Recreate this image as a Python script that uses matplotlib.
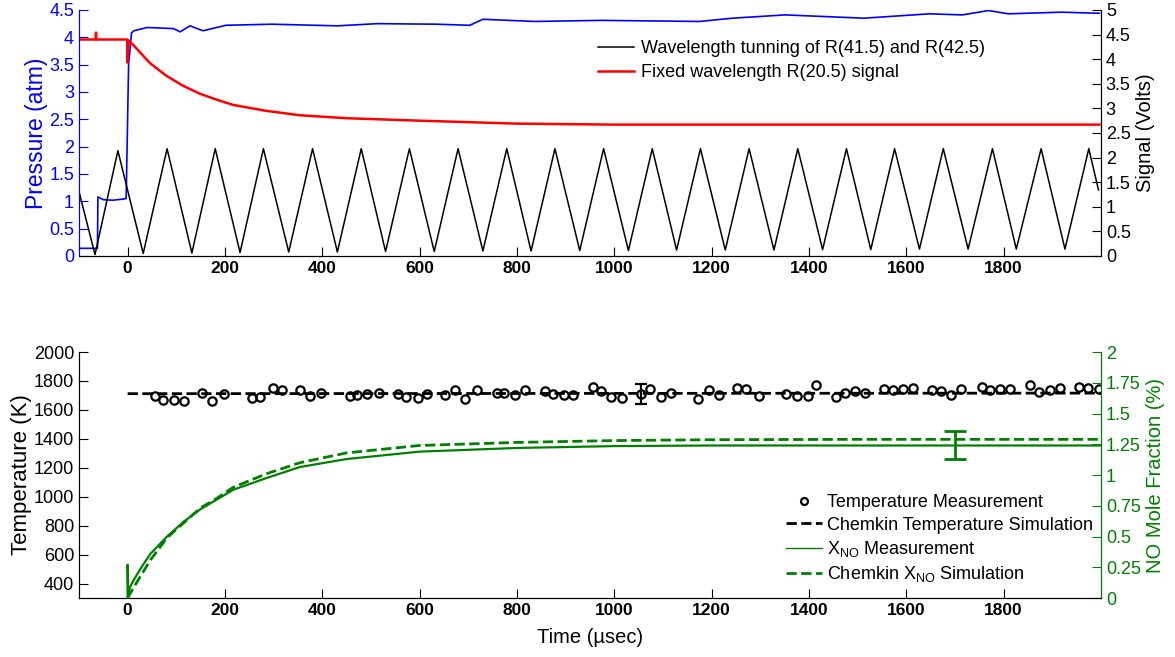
import numpy as np
import matplotlib.pyplot as plt

plt.rcParams['font.family'] = ['Liberation Sans', 'DejaVu Sans']
plt.rcParams['mathtext.fontset'] = 'custom'
plt.rcParams['mathtext.rm'] = 'Liberation Sans'

# ---- top panel: pressure and laser signals ----
p_t = [-100, -62, -61, -50, -30, -10, -3, 2, 8, 13, 40, 94, 108, 128, 155, 202, 296, 431,
       513, 635, 703, 730, 837, 972, 1175, 1243, 1351, 1513, 1648, 1715, 1769, 1810, 1918, 1997]
p_atm = [0.14, 0.14, 1.08, 1.03, 1.02, 1.04, 1.05, 3.5, 4.08, 4.12, 4.18, 4.16, 4.10, 4.21, 4.12,
         4.22, 4.24, 4.21, 4.25, 4.24, 4.22, 4.33, 4.29, 4.31, 4.29, 4.35, 4.41, 4.35, 4.43, 4.41,
         4.49, 4.43, 4.46, 4.44]

fixed_t = [-100, -66, -65, -64, -1, 0, 2, 5, 11.5, 46, 80, 114, 148, 182, 217, 285, 354, 450,
           600, 800, 1000, 1400, 1997]
fixed_v = [4.40, 4.40, 4.54, 4.40, 4.40, 3.93, 4.38, 4.35, 4.29, 3.92, 3.66, 3.46, 3.30, 3.18,
           3.07, 2.95, 2.86, 2.80, 2.75, 2.69, 2.67, 2.67, 2.67]

scan_t = [-100, -67, -20, 32, 81, 132, 180, 231, 279, 331, 380, 431, 480, 530, 579, 630, 679,
          730, 779, 829, 878, 929, 978, 1029, 1078, 1128, 1177, 1228, 1277, 1328, 1377, 1428,
          1477, 1527, 1576, 1627, 1676, 1727, 1777, 1826, 1877, 1926, 1975, 1995]
scan_v = [1.31, 0.03, 2.14, 0.05, 2.18, 0.06, 2.18, 0.07, 2.18, 0.08, 2.18, 0.08, 2.18, 0.09,
          2.18, 0.09, 2.18, 0.10, 2.18, 0.10, 2.18, 0.11, 2.18, 0.11, 2.18, 0.12, 2.18, 0.12,
          2.18, 0.12, 2.18, 0.13, 2.18, 0.13, 2.18, 0.14, 2.18, 0.14, 2.18, 0.14, 2.18, 0.14,
          2.18, 1.34]

# ---- bottom panel: temperature and NO ----
temp_t = [56, 73, 95, 115, 153, 174, 199, 256, 273, 298, 318, 355, 374, 398, 456, 472, 491,
          516, 556, 573, 596, 616, 652, 672, 694, 717, 758, 773, 795, 816, 857, 874, 896, 915,
          956, 973, 994, 1016, 1055, 1074, 1096, 1117, 1171, 1194, 1216, 1253, 1270, 1298, 1352,
          1376, 1397, 1415, 1455, 1474, 1494, 1516, 1554, 1573, 1594, 1614, 1653, 1671, 1692,
          1712, 1755, 1771, 1793, 1814, 1855, 1872, 1896, 1915, 1954, 1974, 1995]
temp_k = [1696, 1666, 1666, 1661, 1719, 1659, 1710, 1685, 1689, 1751, 1737, 1735, 1696, 1714,
          1696, 1701, 1708, 1719, 1712, 1689, 1685, 1708, 1701, 1735, 1675, 1735, 1719, 1719,
          1701, 1735, 1728, 1708, 1701, 1701, 1758, 1728, 1689, 1685, 1708, 1742, 1689, 1719,
          1675, 1735, 1701, 1751, 1742, 1696, 1712, 1696, 1696, 1774, 1689, 1719, 1728, 1719,
          1742, 1735, 1742, 1751, 1735, 1728, 1701, 1742, 1758, 1735, 1742, 1742, 1770, 1724,
          1735, 1751, 1758, 1751, 1742]
temp_sim_t = [0, 2000]
temp_sim_k = [1712, 1716]
temp_err_t, temp_err_k, temp_err = 1055, 1710, 69

no_t = [0, 0, 1, 5, 13, 30, 47, 81, 115, 149, 183, 217, 285, 354, 450, 600, 800, 1000, 1200,
        1500, 1800, 2000]
no_meas = [0, 0.27, 0.03, 0.09, 0.15, 0.26, 0.36, 0.50, 0.62, 0.72, 0.80, 0.88, 0.975, 1.065,
           1.13, 1.19, 1.22, 1.235, 1.24, 1.24, 1.24, 1.24]
no_sim_t = [0, 13, 30, 47, 81, 115, 149, 183, 217, 285, 354, 450, 600, 800, 1000, 1200, 1500,
            2000]
no_sim = [0, 0.09, 0.20, 0.31, 0.49, 0.61, 0.73, 0.81, 0.90, 1.01, 1.10, 1.18, 1.24, 1.265,
          1.28, 1.287, 1.29, 1.29]
no_err_t, no_err_x, no_err = 1700, 1.245, 0.115

green = '#008000'
xticks = np.arange(0, 2000, 200)

fig = plt.figure(figsize=(11.75, 6.57), dpi=100)
ax1 = fig.add_axes([0.0672, 0.6104, 0.8698, 0.3744])
ax2 = ax1.twinx()
ax3 = fig.add_axes([0.0672, 0.0898, 0.8698, 0.3744])
ax4 = ax3.twinx()


def style(ax):
    ax.tick_params(direction='in', length=6.5, width=0.8)
    ax.tick_params(axis='y', labelsize=13)
    ax.tick_params(axis='x', labelsize=12.5)
    ax.spines['top'].set_visible(False)
    ax.set_xlim(-100, 2000)
    ax.set_xticks(xticks)
    for lab in ax.get_xticklabels():
        lab.set_fontweight('bold')


for ax in (ax1, ax2, ax3, ax4):
    style(ax)

# top panel
ax1.plot(p_t, p_atm, color='blue', lw=1.2)
ax1.set_ylim(0, 4.5)
ax1.set_yticks(np.arange(0, 4.6, 0.5))
ax1.set_yticklabels(['0', '0.5', '1', '1.5', '2', '2.5', '3', '3.5', '4', '4.5'])
ax1.set_ylabel('Pressure (atm)', color='blue', fontsize=16.5, labelpad=1)
ax1.tick_params(axis='y', colors='blue')
ax1.spines['left'].set_color('blue')

ax2.plot(scan_t, scan_v, color='black', lw=1.1, label='Wavelength tunning of R(41.5) and R(42.5)')
ax2.plot(fixed_t, fixed_v, color='red', lw=1.8, label='Fixed wavelength R(20.5) signal')
ax2.set_ylim(0, 5)
ax2.set_yticks(np.arange(0, 5.1, 0.5))
ax2.set_yticklabels(['0', '0.5', '1', '1.5', '2', '2.5', '3', '3.5', '4', '4.5', '5'])
ax2.set_ylabel('Signal (Volts)', fontsize=14.5, labelpad=4)
ax2.spines['left'].set_color('blue')
ax2.legend(loc='upper left', bbox_to_anchor=(0.508, 0.878), frameon=False, fontsize=13,
           handlelength=2.0, handletextpad=0.35, borderpad=0, borderaxespad=0, labelspacing=0.4)

# bottom panel
ax3.plot(temp_t, temp_k, 'o', ms=6, mfc='none', mec='black', mew=1.6,
         label='Temperature Measurement')
ax3.plot(temp_sim_t, temp_sim_k, '--', color='black', lw=2,
         label='Chemkin Temperature Simulation')
ax3.errorbar(temp_err_t, temp_err_k, yerr=temp_err, color='black', lw=1.6, capsize=4,
             capthick=1.6)
ax3.set_ylim(300, 2000)
ax3.set_yticks(np.arange(400, 2001, 200))
ax3.set_ylabel('Temperature (K)', fontsize=16, labelpad=1)
ax3.set_xlabel('Time (\u00b5sec)', fontsize=14.5, labelpad=7)

ax4.plot(no_t, no_meas, color=green, lw=1.6, label='X$_{\\mathregular{NO}}$ Measurement')
ax4.plot(no_sim_t, no_sim, '--', color=green, lw=2,
         label='Chemkin X$_{\\mathregular{NO}}$ Simulation')
ax4.errorbar(no_err_t, no_err_x, yerr=no_err, color=green, lw=2, capsize=8, capthick=2)
ax4.set_ylim(0, 2)
ax4.set_yticks(np.arange(0, 2.01, 0.25))
ax4.set_yticklabels(['0', '0.25', '0.5', '0.75', '1', '1.25', '1.5', '1.75', '2'])
ax4.set_ylabel('NO Mole Fraction (%)', color=green, fontsize=14.5, labelpad=4)
ax4.tick_params(axis='y', colors=green)
ax4.spines['right'].set_color(green)

h3, l3 = ax3.get_legend_handles_labels()
h4, l4 = ax4.get_legend_handles_labels()
leg = ax4.legend(h3 + h4, l3 + l4, loc='upper left', bbox_to_anchor=(0.692, 0.422),
                 frameon=False, fontsize=13, handlelength=2.0, handletextpad=0.25,
                 borderpad=0, borderaxespad=0, labelspacing=0.3)
leg.legend_handles[0].set_markersize(5)
leg.legend_handles[2].set_linewidth(1.0)

fig.savefig('out.png', dpi=100)
